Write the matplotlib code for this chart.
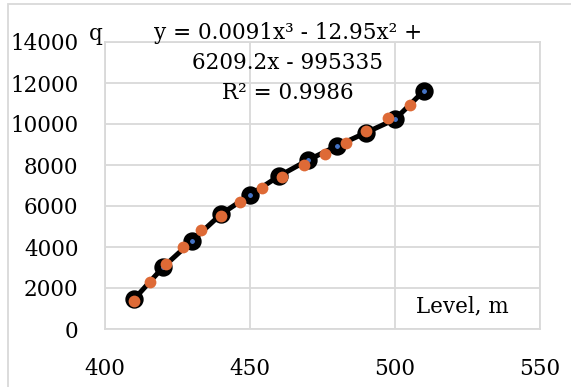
import numpy as np
import matplotlib.pyplot as plt
from matplotlib.patches import Rectangle

# measured points (black markers) and fitted points (orange)
level = [410, 420, 430, 440, 450, 460, 470, 480, 490, 500, 510]
q = [1450, 3010, 4300, 5600, 6540, 7460, 8240, 8930, 9580, 10230, 11620]

level_fit = [410, 415.5, 421, 427, 433, 440, 446.5, 454, 461, 468.5, 476, 483, 490, 497.5, 505]
q_fit = [1380, 2310, 3170, 4010, 4830, 5510, 6210, 6860, 7400, 8000, 8540, 9090, 9660, 10280, 10930]

x_ticks = [400, 450, 500, 550]
y_ticks = [0, 2000, 4000, 6000, 8000, 10000, 12000, 14000]

grid_c = '#D9D9D9'
font = 'DejaVu Serif'
fs = 15.5

fig = plt.figure(figsize=(5.71, 3.87), dpi=100)
ax = fig.add_axes([105/571, 1-329/387, 435/571, 287/387])

ax.plot(level, q, color='black', lw=3.6, marker='o', ms=8.4,
        mfc='#4472C4', mec='black', mew=4.8, zorder=3)
ax.scatter(level_fit, q_fit, s=72, color='#DE6A36', zorder=4, linewidths=0)

ax.set_xlim(400, 550)
ax.set_ylim(0, 14000)
ax.set_xticks(x_ticks)
ax.set_yticks(y_ticks)
ax.grid(True, color=grid_c, lw=1.3)
ax.set_axisbelow(True)
for s in ax.spines.values():
    s.set_color(grid_c)
    s.set_linewidth(1.3)
ax.tick_params(length=0, labelsize=fs)
ax.tick_params(axis='x', pad=21)
ax.tick_params(axis='y', pad=19)
for lab in ax.get_xticklabels() + ax.get_yticklabels():
    lab.set_fontfamily(font)

ax.text(288/571, 1-63/387, 'y = 0.0091x³ - 12.95x² +\n6209.2x - 995335\nR² = 0.9986',
        transform=fig.transFigure, ha='center', va='center', fontsize=fs,
        family=font, linespacing=1.45)
fig.text(96/571, 1-34/387, 'q', ha='center', va='center', fontsize=fs, family=font)
fig.text(462/571, 1-306/387, 'Level, m', ha='center', va='center', fontsize=fs, family=font)

# chart area border
fig.patches.append(Rectangle((8/571, -0.1), 1.2, 1.1 - 4/387, transform=fig.transFigure,
                             fill=False, ec=grid_c, lw=1.3))

fig.savefig('out.png', dpi=100)
